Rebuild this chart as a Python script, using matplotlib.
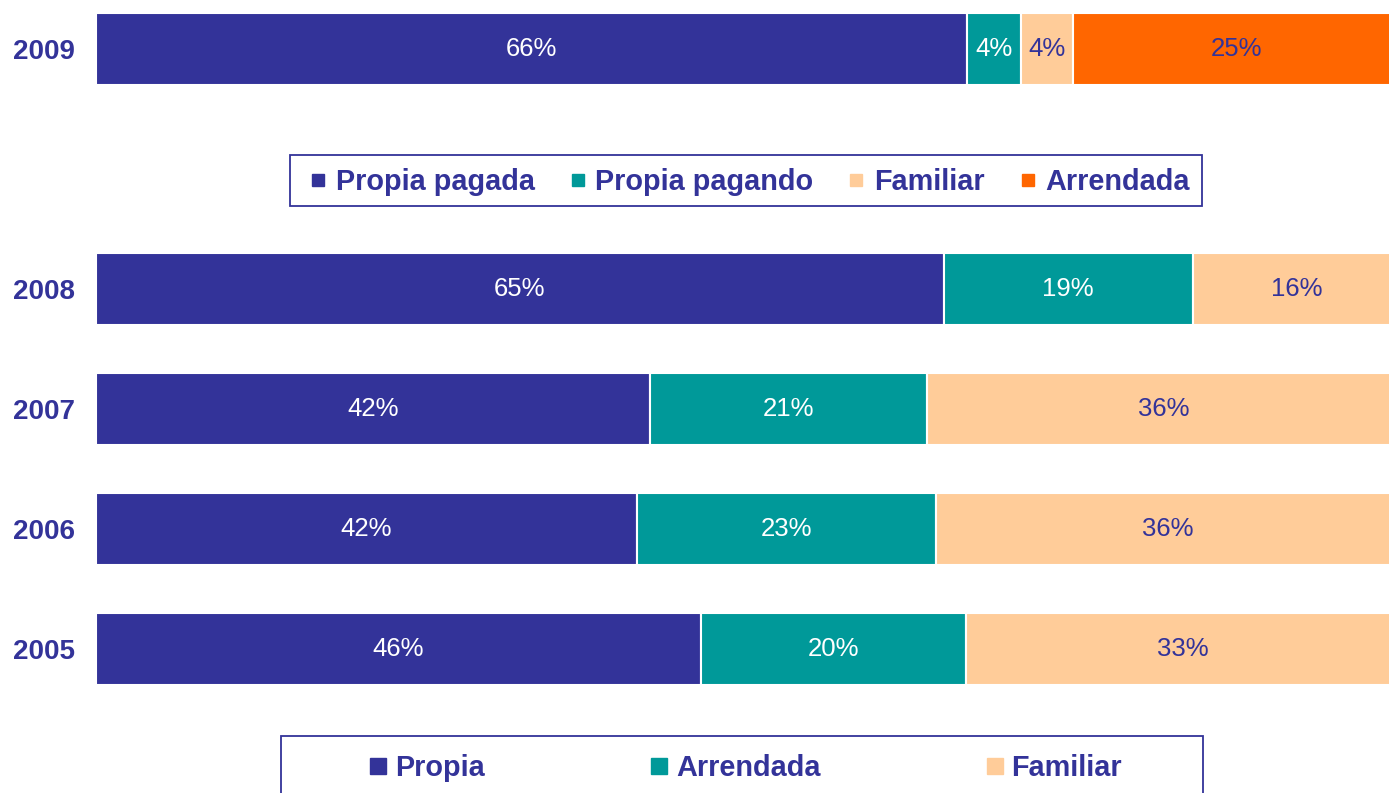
import matplotlib
matplotlib.use("Agg")
import matplotlib.pyplot as plt
from matplotlib.lines import Line2D
from matplotlib.patches import Rectangle
import numpy as np

plt.rcParams['font.family'] = ['Liberation Sans', 'DejaVu Sans']

# ---- data ----
years_main = ['2005', '2006', '2007', '2008']
cats_main = ['Propia', 'Arrendada', 'Familiar']
# shares (% of the row)
propia = [46.4, 41.5, 42.5, 65.0]
arrendada = [20.3, 22.9, 21.2, 19.1]
familiar = [33.3, 35.6, 36.3, 15.9]
# labels printed on the bars
propia_lbl = ['46%', '42%', '42%', '65%']
arrendada_lbl = ['20%', '23%', '21%', '19%']
familiar_lbl = ['33%', '36%', '36%', '16%']

year_2009 = '2009'
cats_2009 = ['Propia pagada', 'Propia pagando', 'Familiar', 'Arrendada']
vals_2009 = [66.8, 4.1, 4.0, 25.1]
lbl_2009 = ['66%', '4%', '4%', '25%']

# ---- styles ----
NAVY = '#333399'
TEAL = '#009999'
PEACH = '#FFCC99'
ORANGE = '#FF6600'

fig = plt.figure(figsize=(13.89, 7.93), dpi=100)
# the bars run slightly past the right edge of the picture
ax = fig.add_axes([96/1389, 0, (1400 - 96)/1389, 1])
ax.set_xlim(0, 100)
ax.set_ylim(-1.196, 5.4125)
for s in ax.spines.values():
    s.set_visible(False)
ax.set_xticks([])

pos_main = np.arange(len(years_main))
pos_2009 = 5
H = 0.6

main_series = [propia, arrendada, familiar]
main_labels = [propia_lbl, arrendada_lbl, familiar_lbl]
main_colors = [NAVY, TEAL, PEACH]
main_txt = ['white', 'white', NAVY]
left = np.zeros(len(years_main))
for vals, lbls, col, tc in zip(main_series, main_labels, main_colors, main_txt):
    w = np.array(vals)
    bc = ax.barh(pos_main, w, left=left, height=H, color=col,
                 edgecolor='white', linewidth=1.5)
    ax.bar_label(bc, labels=lbls, label_type='center',
                 color=tc, fontsize=18.5)
    left += w

cols_2009 = [NAVY, TEAL, PEACH, ORANGE]
txt_2009 = ['white', 'white', NAVY, NAVY]
l09 = 0.0
for v, lb, col, tc in zip(vals_2009, lbl_2009, cols_2009, txt_2009):
    bc = ax.barh([pos_2009], [v], left=l09, height=H, color=col,
                 edgecolor='white', linewidth=1.5)
    ax.bar_label(bc, labels=[lb], label_type='center',
                 color=tc, fontsize=18.5)
    l09 += v

ax.set_yticks(list(pos_main) + [pos_2009], years_main + [year_2009])
ax.tick_params(axis='y', length=0, pad=15)
for t in ax.get_yticklabels():
    t.set_color(NAVY)
    t.set_fontweight('bold')
    t.set_fontsize(20)

# legend 1 (2009)
h1 = [Line2D([], [], marker='s', linestyle='none', markersize=8.6,
             markerfacecolor=c, markeredgecolor=c) for c in cols_2009]
leg1 = fig.legend(h1, cats_2009, loc='center left',
                  bbox_to_anchor=(312/1389, 1 - 182/793), ncol=4,
                  frameon=False, borderpad=0, borderaxespad=0,
                  handlelength=0.41, handletextpad=0.41, columnspacing=1.28,
                  prop={'weight': 'bold', 'size': 20.8})
for t in leg1.get_texts():
    t.set_color(NAVY)
fig.add_artist(Rectangle((290/1389, 1 - 206/793), 912/1389, 51/793,
                         transform=fig.transFigure, fill=False,
                         edgecolor=NAVY, linewidth=1.3))

# legend 2 (2005-2008)
h2 = [Line2D([], [], marker='s', linestyle='none', markersize=11.5,
             markerfacecolor=c, markeredgecolor=c) for c in main_colors]
leg2 = fig.legend(h2, cats_main, loc='center left',
                  bbox_to_anchor=(370/1389, 1 - 768/793), ncol=3,
                  frameon=False, borderpad=0, borderaxespad=0,
                  handlelength=0.55, handletextpad=0.31, columnspacing=5.76,
                  prop={'weight': 'bold', 'size': 20.8})
for t in leg2.get_texts():
    t.set_color(NAVY)
fig.add_artist(Rectangle((281/1389, -0.02), 922/1389, 1 - 736/793 + 0.02,
                         transform=fig.transFigure, fill=False,
                         edgecolor=NAVY, linewidth=1.3, clip_on=False))

fig.savefig('out.png', dpi=100)
